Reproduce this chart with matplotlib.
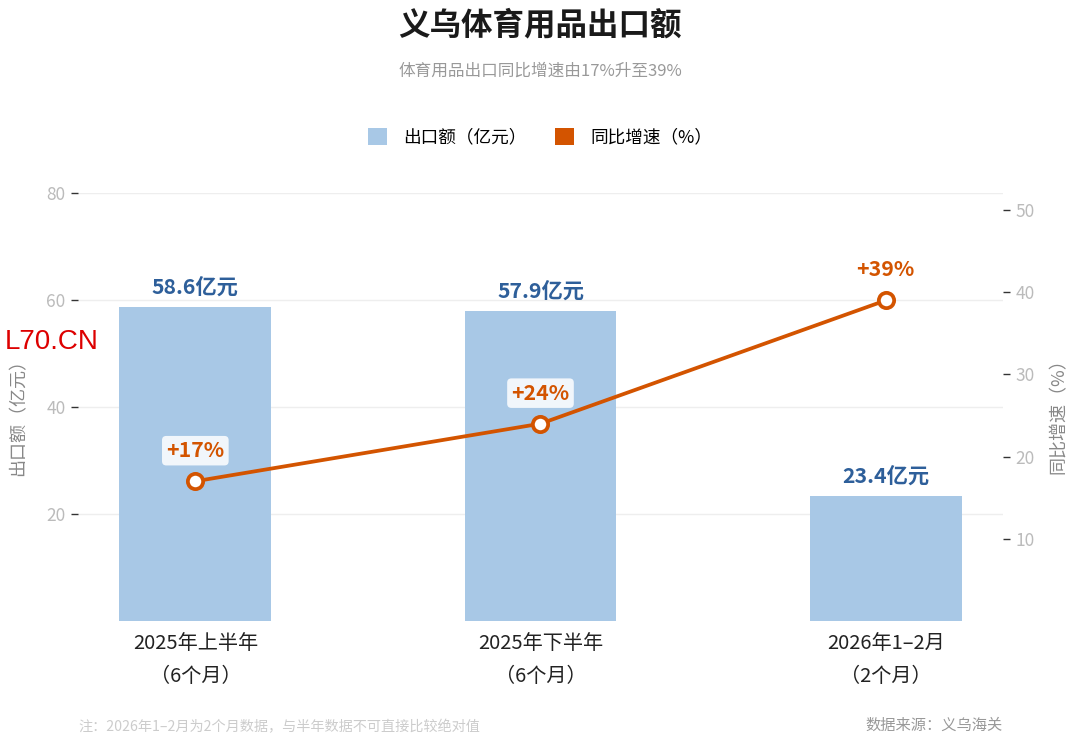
import matplotlib
matplotlib.use("Agg")
import matplotlib.pyplot as plt
from matplotlib.patches import Patch

plt.rcParams["font.family"] = ["Noto Sans CJK SC", "DejaVu Sans"]

# --------------------------------------------------------------------
# Data
# --------------------------------------------------------------------
categories = ["2025年上半年\n（6个月）", "2025年下半年\n（6个月）", "2026年1–2月\n（2个月）"]
export_values = [58.6, 57.9, 23.4]   # 亿元
growth_rates = [17, 24, 39]          # %
bar_labels = ["58.6亿元", "57.9亿元", "23.4亿元"]
growth_labels = ["+17%", "+24%", "+39%"]
left_ticks = [20, 40, 60, 80]
right_ticks = [10, 20, 30, 40, 50]

BAR_COLOR = "#a8c8e6"
LINE_COLOR = "#d35400"
BAR_TEXT = "#2e5f9a"

fig = plt.figure(figsize=(10.8, 7.46), dpi=100)
ax = fig.add_axes([0.0722, 0.1676, 0.8565, 0.5737])
ax2 = ax.twinx()

x = list(range(len(categories)))

# bars
ax.bar(x, export_values, width=0.44, color=BAR_COLOR, zorder=2)
ax.set_xlim(-0.34, 2.34)
ax.set_ylim(0, 80)
ax.set_yticks(left_ticks)
ax.grid(axis="y", color="#eeeeee", linewidth=1, zorder=0)
ax.set_axisbelow(True)
for xi, v, lab in zip(x, export_values, bar_labels):
    ax.annotate(lab, (xi, v), xytext=(0, 6), textcoords="offset points",
                ha="center", va="bottom", fontsize=15.3, fontweight="bold",
                color=BAR_TEXT)

ax.set_xticks(x)
ax.set_xticklabels(categories, fontsize=14.5, color="#222222", linespacing=1.75)
ax.tick_params(axis="x", length=0, pad=9)
ax.tick_params(axis="y", colors="#333333", labelcolor="#bbbbbb", labelsize=12.5,
               length=5, width=1, pad=4)
ax.set_ylabel("出口额（亿元）", fontsize=13, color="#888888")
ax.yaxis.set_label_coords(-0.055, 0.485)

# line
ax2.plot(x, growth_rates, color=LINE_COLOR, linewidth=2.7, marker="o",
         markersize=11, markerfacecolor="white", markeredgecolor=LINE_COLOR,
         markeredgewidth=2.7, zorder=3)
ax2.set_ylim(0, 52.07)
ax2.set_yticks(right_ticks)
ax2.tick_params(axis="y", colors="#333333", labelcolor="#bbbbbb", labelsize=12.5,
                length=5, width=1, pad=4)
ax2.set_ylabel("同比增速（%）", fontsize=13, color="#888888")
ax2.yaxis.set_label_coords(1.05, 0.49)
for xi, v, lab in zip(x, growth_rates, growth_labels):
    ax2.annotate(lab, (xi, v), xytext=(0, 22), textcoords="offset points",
                 ha="center", va="center", fontsize=15.3, fontweight="bold",
                 color=LINE_COLOR,
                 bbox=dict(boxstyle="round,pad=0.2", fc="white", ec="none",
                           alpha=0.85))

for a in (ax, ax2):
    for s in a.spines.values():
        s.set_visible(False)

# title / subtitle
fig.text(0.5, 1 - 25 / 746, "义乌体育用品出口额", ha="center", va="center",
         fontsize=22.7, fontweight="bold", color="#1a1a1a")
fig.text(0.5, 1 - 71 / 746, "体育用品出口同比增速由17%升至39%", ha="center",
         va="center", fontsize=12, color="#999999")

# legend
handles = [Patch(facecolor=BAR_COLOR, edgecolor="none", label="出口额（亿元）"),
           Patch(facecolor=LINE_COLOR, edgecolor="none", label="同比增速（%）")]
fig.legend(handles=handles, loc="center", bbox_to_anchor=(0.5, 1 - 137 / 746),
           ncol=2, frameon=False, fontsize=12.7, handlelength=1.1,
           handleheight=1.1, handletextpad=0.9, columnspacing=1.6)

# watermark
fig.text(5 / 1080, 1 - 342 / 746, "L70.CN", ha="left", va="center",
         fontsize=20, color="#dd0000", family=["Liberation Sans", "DejaVu Sans"])

# footer
fig.text(78 / 1080, 1 - 727 / 746,
         "注：2026年1–2月为2个月数据，与半年数据不可直接比较绝对值",
         ha="left", va="center", fontsize=10.2, color="#cccccc")
fig.text(1003 / 1080, 1 - 725 / 746, "数据来源：义乌海关", ha="right",
         va="center", fontsize=11, color="#999999")

fig.savefig("out.png", dpi=100, facecolor="white")
